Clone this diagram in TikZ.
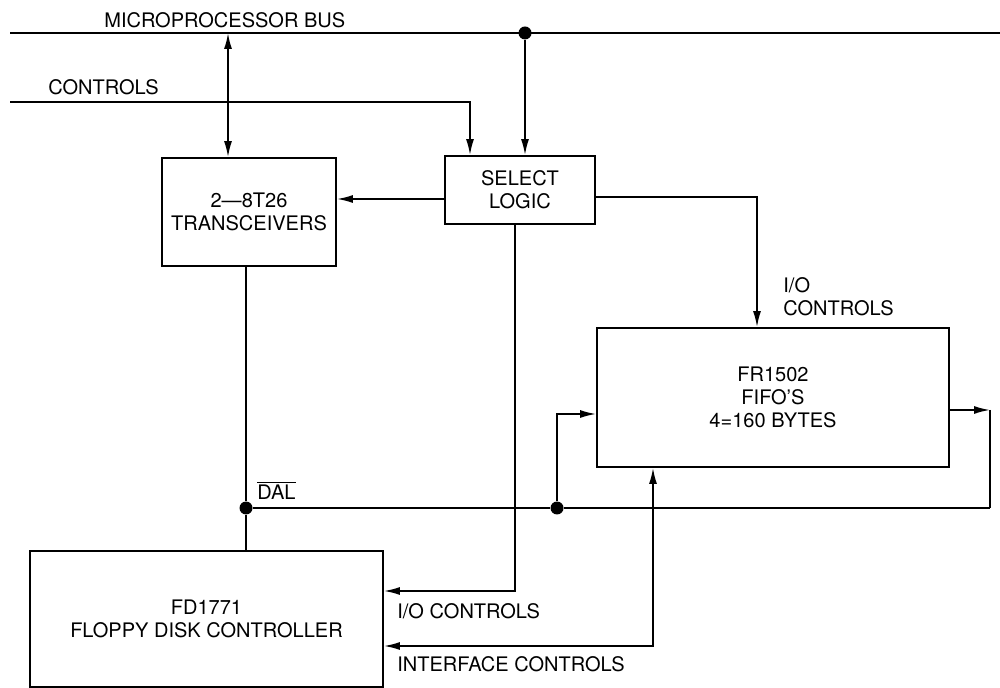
\documentclass[tikz,border=0pt]{standalone}
\usepackage{fontspec}
\setmainfont{TeX Gyre Heros}
\usetikzlibrary{arrows.meta,positioning}
\tikzset{
  line/.style={draw=black, line width=1pt},
  arr/.style={line, -{Latex[length=3.2mm,width=1.6mm]}},
  darr/.style={line, {Latex[length=3.2mm,width=1.6mm]}-{Latex[length=3.2mm,width=1.6mm]}},
  block/.style={draw=black, line width=1pt, rectangle, align=center, inner sep=0pt,
    font=\fontsize{11.4}{13.2}\selectfont},
  dot/.style={circle, fill=black, inner sep=0pt, minimum size=2.6mm},
  lbl/.style={font=\fontsize{11.4}{13.2}\selectfont, inner sep=0pt}
}

\begin{document}
\begin{tikzpicture}[x=0.02cm, y=-0.02cm]
  \useasboundingbox (0,0) rectangle (1000,688);

  % blocks
  \node[block, minimum width=3.48cm, minimum height=2.16cm] (trx) at (249,212) {2---8T26\\TRANSCEIVERS};
  \node[block, minimum width=3.0cm, minimum height=1.36cm] (sel) at (520,190) {SELECT\\LOGIC};
  \node[block, minimum width=7.04cm, minimum height=2.78cm] (fifo) at (773,397.5) {FR1502\\FIFO'S\\4=160 BYTES};
  \node[block, minimum width=7.06cm, minimum height=2.72cm] (fdc) at (206.5,619) {FD1771\\FLOPPY DISK CONTROLLER};

  % microprocessor bus
  \coordinate (busL) at (10,33);
  \coordinate (busR) at (1000,33);
  \coordinate (trxbus) at (228,33);
  \draw[line] (busL) -- (busR);
  \node[dot] (busdot) at (525,33) {};
  \node[lbl, anchor=west] (buslbl) at (104,20) {MICROPROCESSOR BUS};
  \draw[darr] (trxbus) -- (trxbus |- trx.north);
  \draw[arr] (busdot) -- (busdot |- sel.north);

  % controls
  \coordinate (ctlL) at (10,102);
  \coordinate (ctlC) at (470,102);
  \node[lbl, anchor=west] (ctllbl) at (48,87) {CONTROLS};
  \draw[arr] (ctlL) -- (ctlC) -- (ctlC |- sel.north);

  % select logic outputs
  \draw[arr] ([yshift=-0.18cm]sel.west) coordinate (s1) -- (s1 -| trx.east);
  \draw[arr] ([yshift=-0.14cm]sel.east) -| ([xshift=-0.32cm]fifo.north);
  \node[lbl, anchor=west, align=left] (iolbl) at (783,297) {I/O\\CONTROLS};

  % DAL
  \node[dot] (daldot) at (246,508) {};
  \node[dot] (fifodot) at (557,508) {};
  \coordinate (dalR) at (990,508);
  \node[lbl, anchor=west] (dallbl) at (257,490) {$\overline{\hbox{DAL}}$};
  \draw[line] (trx.south -| daldot) -- (daldot) -- (daldot |- fdc.north);
  \draw[line] (daldot) -- (fifodot) -- (dalR);
  \draw[arr] (fifodot) |- ([yshift=-0.33cm]fifo.west);
  \draw[arr] ([yshift=-0.25cm]fifo.east) coordinate (f1) -- (f1 -| dalR);
  \draw[line] (f1 -| dalR) -- (dalR);

  % controls into FD1771
  \coordinate (ioB) at (515,591);
  \coordinate (ifB) at (653,646);
  \draw[arr] (sel.south -| ioB) -- (ioB) -- (ioB -| fdc.east);
  \node[lbl, anchor=west] (io2lbl) at (397,611) {I/O CONTROLS};
  \draw[darr] (fifo.south -| ifB) -- (ifB) -- (ifB -| fdc.east);
  \node[lbl, anchor=west] (iflbl) at (397,664) {INTERFACE CONTROLS};
\end{tikzpicture}
\end{document}
